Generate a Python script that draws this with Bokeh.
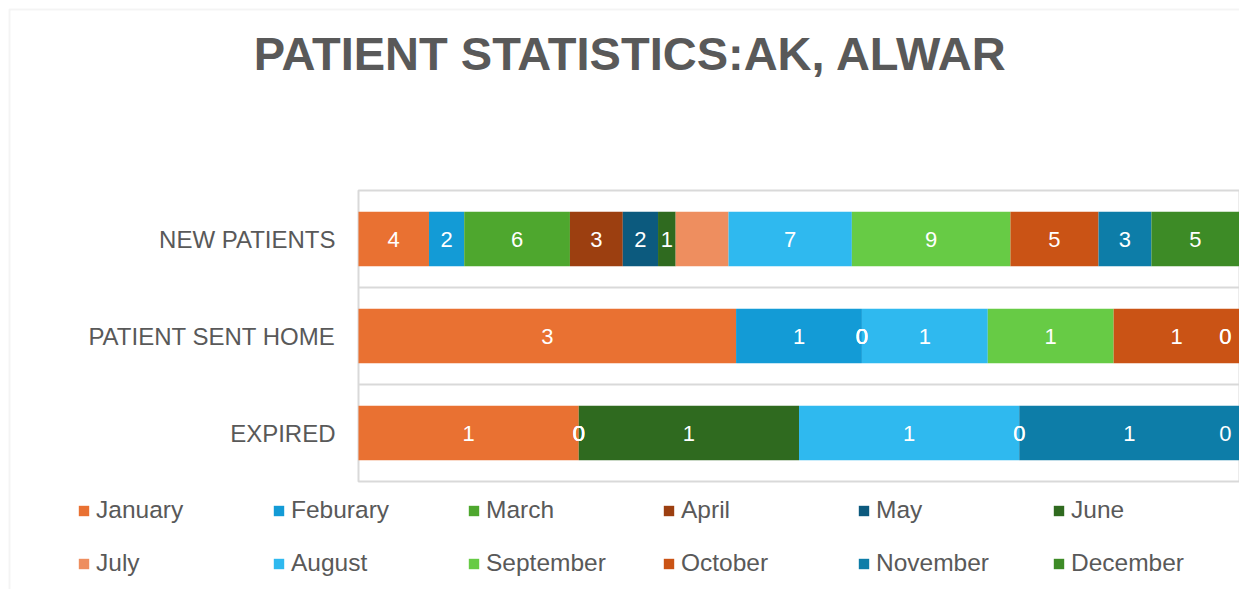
from bokeh.plotting import figure
from bokeh.models import (ColumnDataSource, Range1d, Legend, LegendItem, Label,
                          BoxAnnotation)
from bokeh.core.properties import value
from bokeh.embed import file_html
from bokeh.resources import INLINE

# ---------------- data ----------------
title_text = "PATIENT STATISTICS:AK, ALWAR"
categories = ["NEW PATIENTS", "PATIENT SENT HOME", "EXPIRED"]
months = ["January", "Feburary", "March", "April", "May", "June",
          "July", "August", "September", "October", "November", "December"]
new_patients = [4, 2, 6, 3, 2, 1, 3, 7, 9, 5, 3, 5]
patient_sent_home = [3, 1, 0, 0, 0, 0, 0, 1, 1, 1, 0, 0]
expired = [1, 0, 0, 0, 0, 1, 0, 1, 0, 0, 1, 0]
unlabelled_months = ["July"]
month_colors = ["#E97132", "#139BD6", "#4EA72E", "#9C3F10", "#0C5A7E", "#2F6A1F",
                "#EE8E5F", "#2FB9EF", "#67CB45", "#CA5315", "#0D7DA8", "#3D8B26"]

series = {"NEW PATIENTS": new_patients,
          "PATIENT SENT HOME": patient_sent_home,
          "EXPIRED": expired}

# ---------------- layout (pixels) ----------------
W, H = 1239, 589
BAR_L, BAR_R = 358, W          # plot-area left / right
PA_TOP, PA_BOT = 190, 481      # plot-area top / bottom
n = len(categories)
unit = (PA_BOT - PA_TOP) / n   # pixels per category band

p = figure(width=W, height=H, output_backend="svg", toolbar_location=None,
           x_axis_location=None, y_axis_location=None,
           x_range=Range1d(-BAR_L / (BAR_R - BAR_L), 1.0),
           y_range=Range1d(-(H - PA_BOT) / unit, n + PA_TOP / unit),
           min_border=0, min_border_left=0, min_border_right=0,
           min_border_top=0, min_border_bottom=0,
           background_fill_color="white", border_fill_color="white")
p.outline_line_color = None
p.xgrid.visible = False
p.ygrid.visible = False

# outer chart border
p.add_layout(BoxAnnotation(left=9, right=W + 50, top=H - 9, bottom=-50,
                           left_units="screen", right_units="screen",
                           top_units="screen", bottom_units="screen",
                           fill_alpha=0, line_color="#d9d9d9", line_width=2))

# plot-area box and category separators
p.quad(left=0, right=1, bottom=0, top=n, fill_color=None,
       line_color="#d9d9d9", line_width=2)
p.segment(x0=[0] * (n - 1), x1=[1] * (n - 1), y0=list(range(1, n)),
          y1=list(range(1, n)), line_color="#d9d9d9", line_width=2)

ypos = {c: n - 1 - i + 0.5 for i, c in enumerate(categories)}

# stacked (100%) bars
renderers = []
cum = {c: 0 for c in categories}
tot = {c: sum(series[c]) for c in categories}
lx, ly, lt, la, lo = [], [], [], [], []
for i, m in enumerate(months):
    lefts, rights = [], []
    for c in categories:
        v = series[c][i]
        a, b = cum[c], cum[c] + v
        lefts.append(a / tot[c])
        rights.append(b / tot[c])
        cum[c] = b
        if m not in unlabelled_months:
            lx.append((a + b) / 2 / tot[c])
            ly.append(ypos[c])
            lt.append(str(v))
            at_end = (v == 0 and b == tot[c])
            la.append("right" if at_end else "center")
            lo.append(-8 if at_end else 0)
    src = ColumnDataSource(dict(y=[ypos[c] for c in categories], left=lefts, right=rights))
    r = p.hbar(y="y", left="left", right="right", height=0.56, source=src,
               fill_color=month_colors[i], line_color=None)
    renderers.append(r)

# value labels
lbl_src = ColumnDataSource(dict(x=lx, y=ly, text=lt, align=la, xoff=lo))
p.text(x="x", y="y", text="text", source=lbl_src, text_align="align",
       x_offset="xoff", text_baseline="middle", text_color="white",
       text_font=value("Liberation Sans"), text_font_size="22px")

# category labels
cat_src = ColumnDataSource(dict(x=[0] * n, y=[ypos[c] for c in categories], text=categories))
p.text(x="x", y="y", text="text", source=cat_src, text_align="right",
       x_offset=-23, text_baseline="middle", text_color="#595959",
       text_font=value("Liberation Sans"), text_font_size="24px")

# title
p.add_layout(Label(x=630, y=H - 53, x_units="screen", y_units="screen",
                   text=title_text, text_align="center", text_baseline="alphabetic",
                   text_font="Liberation Sans", text_font_style="bold",
                   text_font_size="47px", text_color="#595959"))

# legend
legend = Legend(items=[LegendItem(label=m, renderers=[r]) for m, r in zip(months, renderers)],
                orientation="horizontal", nrows=2,
                location=(77, H - 580.5),
                glyph_width=13, glyph_height=13, label_standoff=6,
                label_width=158, label_height=35, spacing=18,
                padding=0, margin=0, border_line_alpha=0, background_fill_alpha=0,
                label_text_font="Liberation Sans", label_text_font_size="24.5px",
                label_text_color="#595959")
p.add_layout(legend, "center")

open("out.html", "w").write(file_html(p, INLINE))
